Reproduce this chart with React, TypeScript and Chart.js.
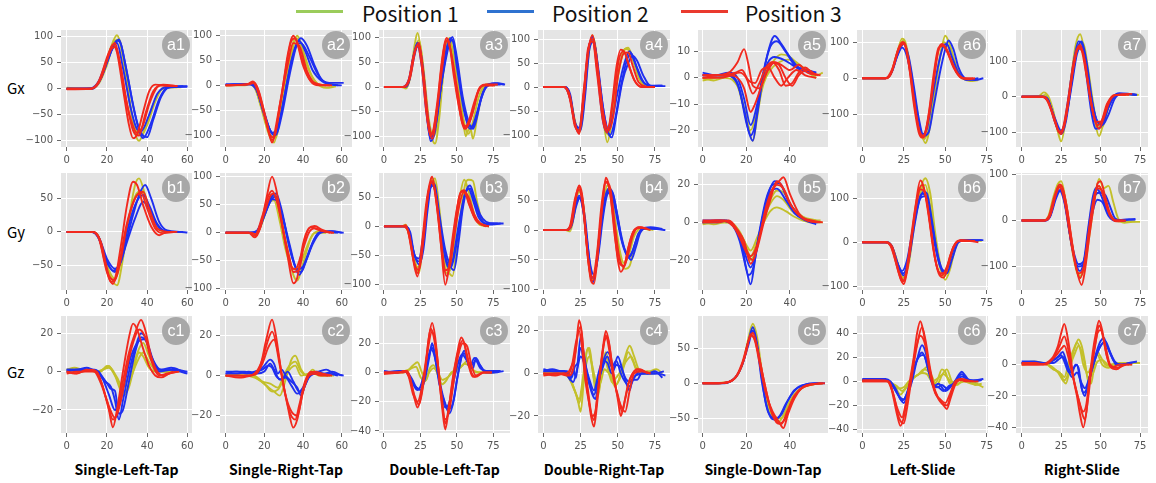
import React, { useEffect, useRef } from "react";
import { Chart, registerables } from "chart.js";

Chart.register(...registerables);

type Pt = [number, number];
type Line = Pt[];

// ---------------- labels ----------------
const LEGEND_LABELS = ["Position 1", "Position 2", "Position 3"];
const ROW_LABELS = ["Gx", "Gy", "Gz"];
const COLUMN_TITLES = [
  "Single-Left-Tap",
  "Single-Right-Tap",
  "Double-Left-Tap",
  "Double-Right-Tap",
  "Single-Down-Tap",
  "Left-Slide",
  "Right-Slide",
];

// x axis per column (sample index)
const X_MIN = [-2.8, -2.9, -3.4, -3.6, -2.1, -3.2, -3.6];
const X_MAX = [62.3, 65.3, 86.4, 85.1, 57.4, 75.8, 80];
const X_STEP = [20, 20, 25, 25, 20, 25, 25];

// ---------------- series (sample index, value) ----------------
// a1 Single-Left-Tap Gx
const A1_P1: Line[] = [
  [[0,0],[10,0],[14,3],[18,30],[22,80],[25,103],[28,60],[31,-20],[34,-85],[36,-100],[39,-75],[43,-30],[47,-2],[52,3],[57,3]],
  [[0,2],[12,0],[16,10],[20,45],[24,92],[26,95],[29,40],[33,-60],[37,-90],[40,-70],[44,-25],[48,2],[55,3]],
];
const A1_P2: Line[] = [
  [[0,0],[13,0],[17,20],[21,60],[25,93],[27,85],[30,30],[34,-50],[37,-85],[40,-93],[43,-60],[47,-15],[51,3],[60,5]],
  [[0,0],[12,1],[16,15],[20,55],[24,85],[26,95],[29,50],[33,-30],[36,-80],[38,-95],[42,-65],[46,-20],[50,2],[60,4]],
  [[0,0],[12,0],[16,12],[20,50],[23,80],[25,88],[28,40],[32,-40],[35,-78],[37,-82],[41,-50],[45,-10],[50,4],[58,5]],
];
const A1_P3: Line[] = [
  [[0,0],[12,0],[16,12],[20,55],[23,85],[25,70],[28,0],[31,-70],[33,-95],[35,-88],[38,-45],[41,-5],[44,8],[50,6],[55,5]],
  [[0,0],[12,0],[16,15],[21,70],[24,88],[26,60],[29,-10],[32,-60],[35,-85],[38,-70],[41,-30],[45,3],[48,8],[55,5]],
  [[0,-1],[12,0],[17,20],[22,75],[24,80],[27,40],[30,-30],[33,-80],[36,-90],[39,-50],[43,-5],[47,6],[55,5]],
];

// a2 Single-Right-Tap Gx
const A2_P1: Line[] = [
  [[0,0],[10,0],[14,5],[18,-40],[22,-95],[25,-115],[28,-60],[32,30],[36,95],[38,90],[42,40],[47,5],[52,-5],[57,-2]],
  [[0,0],[12,2],[15,-5],[19,-50],[23,-100],[26,-105],[29,-40],[33,40],[37,100],[40,70],[45,15],[50,0],[55,0]],
];
const A2_P2: Line[] = [
  [[0,2],[12,3],[15,0],[19,-45],[23,-90],[26,-100],[29,-60],[33,20],[37,85],[39,95],[42,80],[46,40],[50,10],[55,5],[61,5]],
  [[0,2],[12,2],[16,-10],[20,-55],[24,-95],[27,-85],[30,-30],[34,50],[38,90],[41,70],[45,30],[50,8],[58,0]],
  [[0,1],[13,2],[16,-8],[20,-60],[25,-100],[28,-70],[32,10],[36,75],[39,85],[43,60],[48,20],[53,3],[60,0]],
];
const A2_P3: Line[] = [
  [[0,0],[11,2],[14,8],[17,-10],[21,-70],[24,-115],[26,-90],[29,-20],[32,60],[35,100],[37,85],[40,40],[44,8],[48,0],[55,0]],
  [[0,0],[12,3],[14,6],[18,-30],[22,-90],[24,-110],[27,-60],[31,30],[34,90],[36,95],[39,60],[43,15],[48,2],[54,0]],
  [[0,0],[12,2],[15,5],[19,-40],[23,-100],[25,-105],[28,-40],[32,40],[35,85],[38,80],[42,30],[46,5],[52,0]],
];

// a3 Double-Left-Tap Gx
const A3_P1: Line[] = [
  [[0,0],[12,0],[15,-3],[18,20],[21,85],[23,110],[26,60],[30,-60],[33,-105],[35,-115],[38,-60],[41,40],[44,95],[46,85],[50,20],[54,-60],[56,-100],[59,-80],[61,-105],[64,-60],[68,-5],[72,5],[78,5]],
  [[0,0],[13,0],[17,10],[21,75],[24,95],[27,40],[31,-70],[34,-100],[37,-70],[40,10],[43,85],[45,100],[48,60],[52,-20],[56,-85],[58,-95],[61,-70],[65,-20],[70,5],[76,3]],
];
const A3_P2: Line[] = [
  [[0,0],[14,0],[17,10],[20,60],[23,90],[26,50],[29,-40],[32,-110],[35,-90],[38,-20],[42,50],[45,90],[47,102],[50,60],[54,-20],[58,-70],[61,-85],[63,-70],[67,-20],[71,5],[78,8],[83,5]],
  [[0,0],[13,0],[17,15],[21,70],[24,85],[27,30],[30,-60],[33,-100],[36,-70],[40,20],[44,85],[47,95],[50,40],[55,-50],[59,-85],[62,-75],[66,-30],[70,0],[76,8],[82,5]],
  [[0,0],[14,0],[17,10],[21,65],[23,85],[26,40],[29,-50],[32,-105],[35,-80],[39,0],[43,80],[46,100],[49,70],[53,-10],[57,-70],[60,-80],[64,-50],[68,-10],[74,5],[80,5]],
];
const A3_P3: Line[] = [
  [[0,0],[13,0],[17,15],[20,60],[23,85],[26,40],[29,-50],[32,-100],[34,-85],[37,-20],[40,60],[43,100],[45,85],[48,20],[52,-50],[55,-85],[58,-70],[62,-30],[66,0],[72,5],[78,5]],
  [[0,0],[13,0],[17,12],[21,70],[24,90],[27,20],[30,-70],[33,-105],[36,-60],[39,30],[42,90],[44,95],[47,50],[51,-30],[54,-75],[57,-80],[61,-50],[65,-5],[70,5],[76,3]],
  [[0,0],[14,0],[18,20],[22,80],[24,85],[27,30],[31,-80],[33,-95],[36,-50],[40,40],[43,95],[46,70],[50,0],[54,-70],[56,-85],[60,-60],[64,-15],[68,3],[75,3]],
];

// a4 Double-Right-Tap Gx
const A4_P1: Line[] = [
  [[0,0],[14,0],[17,-10],[21,-70],[24,-95],[27,-40],[30,60],[33,108],[36,50],[40,-60],[43,-115],[46,-70],[50,20],[54,75],[57,82],[60,60],[64,20],[68,2],[75,0]],
  [[0,0],[14,0],[18,-20],[22,-80],[25,-90],[28,-10],[31,80],[34,100],[37,30],[41,-80],[44,-100],[47,-40],[51,40],[55,80],[58,75],[62,40],[67,5],[72,0]],
];
const A4_P2: Line[] = [
  [[0,0],[14,0],[18,-25],[21,-75],[24,-95],[27,-30],[30,70],[33,105],[36,60],[40,-40],[43,-90],[46,-105],[49,-60],[53,10],[57,50],[60,65],[63,55],[67,25],[72,3],[80,3]],
  [[0,0],[15,0],[18,-20],[22,-85],[25,-90],[28,-20],[31,80],[34,95],[37,30],[41,-60],[45,-100],[48,-70],[52,0],[56,55],[59,70],[63,40],[68,8],[75,2],[82,2]],
  [[0,0],[14,0],[18,-15],[21,-70],[24,-85],[27,-20],[30,75],[33,100],[36,40],[40,-70],[43,-95],[46,-70],[50,-10],[54,45],[58,75],[61,55],[66,15],[72,2],[80,3]],
];
const A4_P3: Line[] = [
  [[0,0],[14,0],[17,-15],[21,-75],[24,-98],[27,-30],[30,70],[33,108],[35,80],[38,0],[41,-80],[43,-95],[46,-40],[49,40],[52,78],[55,70],[58,40],[62,10],[67,0],[75,0]],
  [[0,0],[14,0],[18,-25],[22,-85],[24,-95],[27,-10],[31,90],[33,100],[36,30],[40,-70],[42,-90],[45,-70],[48,0],[51,60],[54,75],[57,50],[61,15],[66,0],[72,0]],
  [[0,0],[14,0],[18,-20],[21,-80],[24,-90],[27,-20],[30,80],[33,95],[36,50],[40,-50],[44,-90],[47,-60],[50,20],[54,70],[57,72],[60,45],[64,10],[70,0]],
];

// a5 Single-Down-Tap Gx
const A5_P1: Line[] = [
  [[0,0],[5,-1],[10,0],[14,-1],[17,-5],[20,-15],[23,-24],[25,-15],[28,0],[32,6],[36,9],[40,8],[44,5],[48,3],[52,1],[55,2]],
  [[0,-1],[6,0],[12,1],[16,-3],[19,-12],[22,-20],[25,-12],[28,-2],[31,3],[35,6],[39,7],[43,6],[47,3],[52,0]],
];
const A5_P2: Line[] = [
  [[0,1],[5,1],[10,1],[14,0],[17,-5],[20,-17],[23,-24],[25,-14],[28,2],[30,10],[33,16],[36,13],[40,8],[44,4],[48,3],[52,2]],
  [[0,1],[6,1],[12,1],[16,-2],[19,-12],[22,-22],[24,-18],[27,-2],[30,6],[33,8],[37,7],[41,5],[45,3],[50,2]],
  [[0,2],[6,1],[12,2],[16,0],[19,-8],[22,-18],[25,-10],[28,3],[31,12],[34,14],[38,10],[42,5],[47,3],[52,2]],
];
const A5_P3: Line[] = [
  [[0,1],[6,1],[12,2],[16,6],[19,11],[21,5],[23,-3],[26,-4],[29,2],[32,6],[35,5],[38,0],[41,-3],[44,1],[48,3],[52,1]],
  [[0,0],[7,1],[12,1],[16,0],[19,-4],[22,-13],[24,-10],[27,-3],[30,3],[33,6],[36,5],[40,3],[44,5],[48,2],[53,1]],
  [[0,0],[8,0],[13,1],[17,2],[20,0],[23,-6],[26,-2],[29,4],[32,6],[35,3],[38,-3],[41,-2],[44,2],[47,4],[50,2],[54,1]],
  [[0,1],[10,1],[15,2],[18,3],[21,-1],[24,-2],[27,3],[30,4],[33,0],[36,-3],[39,0],[43,3],[47,1],[52,0]],
];

// a6 Left-Slide Gx
const A6_P1: Line[] = [
  [[0,0],[14,0],[17,10],[21,70],[24,110],[26,100],[29,30],[32,-60],[35,-140],[38,-180],[41,-130],[44,-30],[47,60],[50,118],[53,90],[57,30],[61,0],[65,-8],[70,-5]],
  [[0,0],[14,0],[18,20],[22,85],[25,105],[28,50],[31,-40],[34,-130],[37,-170],[40,-140],[43,-50],[46,40],[49,100],[52,85],[56,30],[60,0],[66,-5]],
];
const A6_P2: Line[] = [
  [[0,0],[14,0],[18,20],[22,75],[25,95],[28,60],[31,-20],[34,-110],[37,-160],[40,-150],[43,-80],[47,20],[50,80],[52,105],[55,80],[58,30],[62,0],[68,-5],[73,0]],
  [[0,0],[14,0],[17,10],[21,60],[24,85],[27,60],[30,-10],[33,-100],[36,-155],[39,-140],[42,-60],[46,40],[49,90],[51,95],[54,60],[58,15],[63,-5],[70,0]],
];
const A6_P3: Line[] = [
  [[0,0],[14,0],[17,10],[21,70],[24,100],[26,90],[29,10],[32,-90],[35,-155],[37,-165],[40,-110],[43,-10],[46,80],[48,95],[51,80],[55,35],[59,5],[64,-3],[68,0]],
  [[0,0],[14,0],[18,25],[22,85],[25,100],[28,50],[31,-50],[34,-140],[37,-160],[40,-100],[43,10],[46,85],[49,90],[53,55],[57,15],[62,0],[67,0]],
  [[0,0],[15,0],[18,20],[22,80],[25,95],[28,40],[31,-70],[34,-150],[36,-165],[39,-130],[42,-40],[45,60],[48,92],[51,75],[55,30],[60,0],[66,-2]],
];

// a7 Right-Slide Gx
const A7_P1: Line[] = [
  [[0,0],[11,2],[14,12],[17,0],[20,-40],[23,-100],[25,-125],[28,-60],[31,40],[34,140],[37,175],[40,120],[43,20],[46,-60],[49,-110],[52,-70],[56,-10],[60,5],[65,5],[74,5]],
  [[0,0],[12,0],[15,5],[19,-30],[23,-90],[26,-100],[29,-30],[33,80],[36,145],[39,150],[42,80],[45,-10],[48,-80],[51,-85],[55,-30],[60,5],[66,8],[74,5]],
];
const A7_P2: Line[] = [
  [[0,0],[13,0],[16,-5],[20,-50],[24,-100],[26,-95],[29,-20],[33,100],[36,155],[38,150],[41,60],[44,-40],[47,-90],[50,-85],[54,-40],[58,0],[62,10],[68,8],[73,5]],
  [[0,0],[13,0],[17,-15],[21,-60],[25,-95],[28,-60],[32,40],[35,120],[38,140],[41,90],[44,0],[47,-60],[51,-80],[55,-50],[59,-5],[64,8],[72,5]],
  [[0,0],[14,0],[17,-10],[21,-70],[25,-105],[28,-70],[31,20],[35,130],[38,155],[41,100],[45,-20],[48,-70],[51,-75],[55,-30],[60,5],[66,8],[73,5]],
];
const A7_P3: Line[] = [
  [[0,0],[13,0],[16,-10],[20,-55],[23,-95],[25,-105],[28,-60],[32,60],[35,130],[37,145],[40,100],[43,10],[46,-60],[49,-90],[52,-60],[56,-10],[60,5],[70,8]],
  [[0,0],[14,0],[17,-15],[21,-70],[24,-100],[27,-80],[30,0],[33,90],[36,135],[39,120],[42,40],[45,-40],[48,-80],[51,-65],[55,-15],[60,5],[68,5]],
  [[0,0],[13,0],[16,-8],[20,-50],[24,-98],[26,-90],[29,-20],[33,100],[36,140],[38,130],[41,60],[44,-20],[47,-70],[50,-70],[54,-20],[59,5],[66,5]],
];

// b1 Single-Left-Tap Gy
const B1_P1: Line[] = [
  [[0,0],[12,0],[15,-3],[18,-25],[21,-60],[25,-80],[28,-40],[31,20],[34,70],[36,80],[39,55],[43,15],[47,2],[52,0]],
  [[0,0],[12,0],[16,-8],[20,-50],[24,-70],[27,-45],[30,0],[33,45],[37,62],[40,45],[44,10],[48,0]],
];
const B1_P2: Line[] = [
  [[0,0],[13,0],[16,-8],[20,-40],[24,-55],[27,-45],[30,-10],[33,25],[36,55],[39,70],[42,50],[46,15],[50,2],[56,0],[60,-1]],
  [[0,0],[13,0],[16,-10],[20,-45],[24,-60],[27,-40],[30,0],[34,40],[38,55],[41,40],[45,12],[50,0],[58,0]],
  [[0,0],[12,0],[16,-10],[20,-45],[23,-58],[26,-50],[30,-15],[34,20],[38,45],[41,35],[45,10],[50,0],[57,0]],
];
const B1_P3: Line[] = [
  [[0,0],[13,0],[16,-8],[19,-45],[22,-75],[24,-70],[27,-20],[30,40],[33,75],[35,70],[38,40],[42,8],[46,-5],[50,0],[55,0]],
  [[0,0],[12,0],[16,-10],[20,-60],[23,-78],[26,-50],[29,0],[32,35],[35,55],[38,60],[41,35],[45,5],[50,0]],
  [[0,0],[13,0],[17,-15],[21,-65],[24,-72],[27,-40],[30,10],[34,50],[37,58],[40,35],[44,5],[48,-2],[54,0]],
];

// b2 Single-Right-Tap Gy
const B2_P1: Line[] = [
  [[0,0],[12,0],[15,-3],[18,10],[21,40],[24,65],[26,62],[29,20],[32,-30],[35,-75],[37,-85],[40,-55],[44,-10],[48,3],[53,2],[57,0]],
  [[0,0],[13,0],[16,-2],[19,20],[23,55],[25,58],[28,20],[31,-30],[35,-65],[38,-60],[42,-25],[46,0],[52,0]],
];
const B2_P2: Line[] = [
  [[0,0],[13,0],[16,2],[20,35],[24,65],[26,70],[29,40],[32,-10],[35,-50],[38,-75],[41,-55],[45,-20],[49,0],[55,3],[61,0]],
  [[0,0],[13,0],[17,5],[21,40],[24,60],[27,55],[30,20],[34,-40],[37,-65],[40,-60],[44,-25],[48,0],[54,3],[60,0]],
  [[0,0],[12,0],[16,3],[20,30],[23,55],[26,65],[29,35],[33,-20],[36,-60],[39,-70],[42,-45],[46,-10],[50,2],[58,0]],
];
const B2_P3: Line[] = [
  [[0,0],[12,0],[15,-8],[18,10],[21,60],[24,100],[26,80],[29,20],[32,-40],[35,-90],[37,-80],[40,-20],[43,8],[46,12],[50,5],[55,0]],
  [[0,0],[12,0],[15,-5],[19,30],[22,65],[24,75],[27,50],[30,0],[33,-45],[35,-70],[38,-65],[41,-10],[44,10],[48,5],[54,0]],
  [[0,0],[13,0],[16,-3],[20,35],[23,65],[25,70],[28,35],[31,-20],[34,-60],[36,-65],[39,-40],[43,0],[46,8],[51,2],[56,0]],
];

// b3 Double-Left-Tap Gy
const B3_P1: Line[] = [
  [[0,0],[12,0],[15,3],[18,-20],[21,-60],[24,-80],[27,-20],[30,50],[33,80],[35,82],[38,30],[41,-40],[44,-75],[47,-85],[50,-30],[53,30],[56,75],[58,80],[61,78],[64,40],[68,5],[72,0]],
  [[0,0],[13,0],[16,-5],[20,-45],[23,-70],[26,-50],[29,20],[32,70],[34,80],[37,40],[40,-30],[43,-80],[46,-70],[49,-10],[52,50],[55,80],[58,60],[62,20],[66,2],[72,0]],
];
const B3_P2: Line[] = [
  [[0,0],[14,0],[17,-5],[20,-40],[24,-65],[27,-40],[30,30],[33,75],[35,70],[38,20],[42,-40],[45,-65],[48,-75],[51,-30],[54,30],[57,65],[59,70],[62,50],[66,20],[70,8],[76,5],[82,5]],
  [[0,0],[14,0],[17,-8],[21,-50],[24,-60],[27,-20],[30,50],[33,72],[36,50],[39,-10],[43,-60],[46,-70],[49,-40],[53,20],[56,60],[59,65],[63,35],[67,10],[72,3],[80,5]],
  [[0,0],[14,0],[18,-10],[21,-50],[24,-55],[27,-15],[31,60],[34,70],[37,30],[41,-40],[44,-70],[47,-60],[51,0],[55,50],[58,65],[61,45],[65,15],[70,5],[78,5]],
];
const B3_P3: Line[] = [
  [[0,0],[12,0],[15,2],[18,-25],[21,-70],[23,-86],[26,-30],[29,40],[32,80],[33,85],[36,40],[39,-30],[42,-100],[44,-80],[47,-20],[50,30],[53,60],[56,55],[59,35],[63,10],[67,3],[72,0]],
  [[0,0],[13,0],[16,-5],[20,-55],[23,-80],[26,-40],[29,30],[32,75],[34,70],[37,20],[40,-50],[43,-85],[46,-50],[49,10],[52,55],[55,62],[58,40],[62,15],[66,5],[72,0]],
  [[0,0],[13,0],[17,-10],[21,-65],[24,-75],[27,-25],[30,50],[33,78],[36,45],[39,-20],[42,-75],[45,-70],[48,-20],[52,40],[55,60],[58,50],[62,20],[66,5],[70,0]],
];

// b4 Double-Right-Tap Gy
const B4_P1: Line[] = [
  [[0,0],[15,0],[18,-2],[21,30],[24,70],[26,55],[29,-20],[32,-80],[34,-85],[37,-20],[40,40],[43,75],[46,60],[49,0],[52,-50],[55,-65],[58,-60],[61,-30],[64,-5],[68,2],[74,0]],
  [[0,0],[15,0],[18,5],[21,40],[24,65],[27,40],[30,-40],[33,-80],[36,-50],[39,20],[42,65],[45,70],[48,20],[51,-30],[54,-55],[57,-45],[61,-10],[66,3],[72,0]],
];
const B4_P2: Line[] = [
  [[0,0],[16,0],[19,10],[22,45],[24,58],[27,30],[30,-40],[33,-88],[35,-70],[38,0],[41,50],[44,70],[47,60],[50,20],[53,-20],[56,-40],[59,-50],[62,-30],[65,-5],[69,3],[76,2],[82,0]],
  [[0,0],[16,0],[19,8],[22,40],[25,55],[28,20],[31,-50],[34,-75],[37,-40],[40,20],[43,60],[46,65],[49,35],[52,-5],[55,-35],[58,-45],[62,-20],[66,2],[72,5],[80,2]],
  [[0,0],[15,0],[18,5],[21,35],[24,55],[27,30],[30,-30],[33,-80],[36,-55],[39,10],[42,55],[45,68],[48,40],[51,0],[54,-30],[57,-45],[60,-35],[64,-5],[70,3],[78,2]],
];
const B4_P3: Line[] = [
  [[0,0],[15,0],[18,5],[21,45],[24,75],[26,60],[29,-20],[32,-85],[34,-90],[37,-30],[40,50],[42,88],[44,75],[47,20],[50,-50],[52,-70],[55,-55],[58,-20],[61,0],[65,5],[70,2]],
  [[0,0],[15,0],[18,8],[21,50],[24,72],[27,40],[30,-50],[33,-85],[36,-50],[39,30],[42,80],[45,70],[48,10],[51,-45],[54,-62],[57,-40],[60,-10],[64,5],[70,2]],
  [[0,0],[16,0],[19,10],[22,55],[24,68],[27,30],[30,-45],[33,-80],[36,-40],[39,40],[42,82],[45,60],[48,-10],[51,-55],[54,-60],[57,-30],[61,0],[66,4],[72,0]],
];

// b5 Single-Down-Tap Gy
const B5_P1: Line[] = [
  [[0,0],[5,-1],[10,0],[14,-1],[17,-5],[20,-12],[22,-15],[25,-8],[28,0],[31,6],[34,8],[38,6],[42,3],[46,1],[50,0],[55,0]],
  [[0,0],[8,0],[12,0],[16,-4],[19,-10],[22,-18],[25,-10],[28,2],[31,10],[34,14],[37,12],[41,6],[45,3],[50,1],[54,1]],
  [[0,-1],[10,1],[15,-2],[19,-12],[22,-20],[25,-12],[28,4],[31,12],[34,17],[37,16],[41,8],[46,3],[52,1]],
];
const B5_P2: Line[] = [
  [[0,1],[6,1],[10,1],[14,-2],[17,-10],[20,-25],[22,-33],[24,-20],[27,0],[30,15],[33,22],[36,20],[40,10],[44,4],[48,1],[52,0]],
  [[0,0],[7,0],[11,1],[15,-3],[18,-12],[21,-28],[23,-25],[26,-5],[29,12],[32,20],[35,21],[39,12],[43,5],[48,1],[53,0]],
  [[0,0],[8,1],[12,0],[16,-5],[19,-15],[22,-24],[25,-12],[28,5],[31,16],[34,18],[38,12],[42,5],[47,1],[52,-1]],
];
const B5_P3: Line[] = [
  [[0,0],[6,1],[10,1],[14,-2],[17,-8],[20,-16],[23,-20],[26,-8],[29,8],[32,18],[35,22],[37,24],[40,15],[44,5],[48,1],[54,0]],
  [[0,1],[8,1],[12,0],[16,-5],[19,-12],[22,-18],[25,-12],[28,2],[31,14],[34,20],[37,18],[41,8],[46,2],[52,0]],
  [[0,0],[7,0],[12,1],[16,-4],[19,-10],[22,-22],[25,-14],[28,0],[31,12],[34,22],[36,20],[40,10],[45,3],[50,1],[55,0]],
];

// b6 Left-Slide Gy
const B6_P1: Line[] = [
  [[0,0],[14,0],[17,-5],[20,-30],[23,-70],[25,-85],[28,-40],[32,60],[35,120],[38,145],[41,110],[44,20],[47,-50],[50,-85],[53,-60],[56,-15],[60,5],[66,5],[72,3]],
  [[0,0],[15,0],[18,-10],[22,-55],[25,-80],[28,-50],[31,30],[35,110],[38,130],[41,80],[44,0],[47,-60],[50,-75],[53,-40],[57,0],[62,5],[70,3]],
];
const B6_P2: Line[] = [
  [[0,0],[14,0],[17,-5],[21,-45],[24,-65],[27,-40],[30,20],[34,90],[37,115],[39,110],[42,50],[45,-20],[48,-60],[51,-70],[54,-40],[58,0],[63,5],[68,5],[73,5]],
  [[0,0],[15,0],[18,-10],[22,-55],[25,-75],[28,-40],[32,50],[35,100],[38,105],[41,60],[44,-10],[47,-55],[50,-65],[53,-35],[57,0],[62,5],[72,5]],
  [[0,0],[14,0],[18,-12],[22,-60],[25,-70],[28,-30],[32,60],[36,110],[39,100],[42,40],[46,-40],[49,-70],[52,-50],[56,-5],[61,5],[70,3]],
];
const B6_P3: Line[] = [
  [[0,0],[14,0],[17,-8],[21,-55],[24,-90],[26,-75],[29,0],[32,80],[35,140],[37,125],[40,60],[43,-20],[46,-70],[49,-80],[52,-50],[55,-10],[59,5],[65,3],[70,0]],
  [[0,0],[15,0],[18,-15],[22,-70],[25,-95],[27,-65],[30,20],[33,100],[36,130],[39,90],[42,10],[45,-55],[48,-75],[51,-55],[55,-10],[60,5],[68,3]],
  [[0,0],[14,0],[18,-10],[22,-65],[25,-88],[28,-40],[32,70],[35,120],[38,110],[41,40],[44,-40],[47,-70],[50,-70],[53,-30],[58,3],[65,3]],
];

// b7 Right-Slide Gy
const B7_P1: Line[] = [
  [[0,0],[14,0],[17,10],[20,50],[23,80],[25,85],[28,40],[31,-30],[34,-90],[37,-120],[40,-100],[43,-30],[46,40],[49,90],[52,70],[55,75],[58,40],[61,5],[65,-5],[70,-3],[75,-3]],
  [[0,0],[14,0],[17,5],[21,50],[24,75],[27,50],[30,-20],[34,-100],[37,-125],[40,-80],[43,0],[46,60],[49,75],[52,50],[55,20],[59,0],[64,-3],[72,-2]],
];
const B7_P2: Line[] = [
  [[0,0],[15,0],[18,10],[21,45],[24,65],[27,40],[30,-20],[33,-70],[36,-95],[39,-90],[42,-20],[45,50],[47,70],[50,60],[53,55],[56,30],[59,5],[63,0],[68,2],[72,3]],
  [[0,0],[15,0],[18,8],[22,50],[25,68],[28,30],[31,-40],[34,-90],[37,-110],[40,-80],[43,-10],[46,50],[49,60],[52,40],[56,10],[60,0],[66,2],[72,2]],
  [[0,0],[14,0],[18,10],[22,55],[25,65],[28,25],[32,-60],[36,-100],[39,-95],[42,-40],[45,20],[48,45],[51,40],[55,10],[59,0],[66,0]],
];
const B7_P3: Line[] = [
  [[0,0],[14,0],[17,8],[21,55],[24,78],[26,70],[29,20],[32,-50],[35,-110],[38,-140],[40,-110],[43,-30],[46,40],[48,80],[50,85],[53,50],[56,15],[60,0],[65,0]],
  [[0,0],[15,0],[18,10],[22,60],[25,75],[28,40],[31,-30],[34,-95],[37,-125],[40,-90],[43,-10],[46,55],[49,75],[52,50],[56,10],[60,-2],[66,0]],
  [[0,0],[14,0],[18,12],[22,62],[24,72],[27,45],[30,-20],[33,-80],[36,-115],[39,-105],[42,-40],[45,30],[48,70],[51,65],[55,20],[59,0],[64,0]],
];

// c1 Single-Left-Tap Gz
const C1_P1: Line[] = [
  [[0,1],[4,2],[8,1],[12,1],[16,0],[19,2],[21,3],[23,0],[26,-6],[29,-12],[31,-8],[33,0],[36,10],[38,8],[41,2],[45,0],[50,0],[55,0]],
  [[0,0],[5,1],[10,1],[14,0],[17,0],[20,3],[22,2],[25,-3],[28,-8],[30,-5],[33,3],[36,12],[38,15],[41,8],[45,1],[50,0],[56,0]],
  [[0,1],[6,0],[11,1],[15,0],[18,1],[21,2],[24,-2],[27,-10],[29,-11],[32,-3],[35,5],[38,10],[41,5],[45,0],[52,0]],
];
const C1_P2: Line[] = [
  [[0,1],[5,1],[10,2],[13,1],[16,0],[19,-5],[22,-8],[24,-15],[26,-25],[28,-15],[31,0],[34,12],[37,20],[39,18],[42,8],[46,1],[50,1],[54,1],[60,0]],
  [[0,0],[5,1],[10,1],[14,1],[17,-2],[20,-6],[22,-9],[24,-10],[26,-22],[28,-20],[31,-5],[34,10],[37,18],[40,15],[43,6],[47,1],[52,2],[58,0]],
  [[0,1],[6,1],[11,1],[15,0],[18,-4],[21,-12],[24,-20],[26,-18],[29,-5],[32,8],[36,16],[39,17],[42,8],[46,0],[52,1],[60,-1]],
];
const C1_P3: Line[] = [
  [[0,0],[4,-1],[8,0],[12,1],[15,0],[18,-8],[21,-20],[23,-29],[25,-20],[28,0],[31,18],[33,25],[35,22],[38,12],[41,3],[44,-2],[47,-3],[51,-1],[56,0]],
  [[0,-1],[5,0],[10,0],[14,0],[17,-5],[20,-15],[23,-25],[25,-22],[28,-5],[31,10],[34,20],[37,27],[39,22],[42,8],[45,0],[48,-2],[53,0]],
  [[0,0],[5,-1],[10,1],[14,0],[17,-6],[21,-18],[24,-24],[27,-15],[30,2],[33,15],[36,22],[39,18],[42,6],[46,-2],[50,-1],[55,0]],
];

// c2 Single-Right-Tap Gz
const C2_P1: Line[] = [
  [[0,0],[8,0],[14,0],[17,-2],[21,-5],[25,-8],[28,-10],[31,-2],[34,8],[36,10],[39,3],[42,0],[45,3],[48,0],[52,0],[56,0]],
  [[0,0],[10,0],[15,-1],[19,-3],[23,-4],[27,-6],[30,0],[33,5],[36,7],[39,2],[43,0],[47,2],[50,0],[55,0]],
  [[0,0],[10,1],[15,0],[20,-4],[24,-8],[27,-7],[30,-2],[33,3],[36,5],[39,0],[43,1],[50,0]],
];
const C2_P2: Line[] = [
  [[0,1],[5,2],[10,2],[14,1],[17,2],[20,5],[23,8],[25,6],[27,1],[29,3],[31,0],[34,-3],[37,-6],[39,-10],[41,-5],[44,1],[48,2],[52,3],[56,1],[61,0]],
  [[0,2],[6,2],[11,1],[15,2],[19,3],[22,5],[24,4],[26,0],[29,-2],[32,2],[35,-3],[38,-8],[40,-6],[43,0],[47,2],[51,1],[55,2],[60,0]],
  [[0,1],[6,1],[12,2],[16,1],[20,2],[23,6],[25,3],[28,-2],[31,-1],[34,-5],[37,-9],[40,-7],[43,-1],[47,1],[53,1],[58,0]],
];
const C2_P3: Line[] = [
  [[0,0],[6,0],[12,0],[15,1],[18,5],[21,18],[24,28],[26,20],[29,0],[32,-15],[35,-26],[37,-22],[40,-8],[43,0],[46,2],[50,1],[55,0]],
  [[0,0],[6,0],[12,0],[16,2],[19,8],[22,18],[24,22],[27,12],[30,-5],[33,-18],[36,-22],[38,-15],[41,-3],[44,2],[49,0],[54,0]],
  [[0,0],[7,-1],[13,0],[16,1],[19,6],[22,14],[25,18],[28,5],[31,-10],[34,-18],[37,-20],[40,-8],[43,0],[47,1],[53,0]],
];

// c3 Double-Left-Tap Gz
const C3_P1: Line[] = [
  [[0,0],[10,0],[14,1],[17,2],[20,5],[23,7],[26,0],[29,-5],[31,2],[34,5],[37,-2],[40,-8],[43,-5],[46,0],[50,2],[54,5],[57,8],[60,3],[64,0],[70,0],[76,0]],
  [[0,0],[12,0],[16,1],[19,3],[22,4],[25,-3],[28,-6],[31,0],[34,3],[37,0],[40,-5],[44,-3],[48,1],[52,3],[55,6],[58,5],[62,1],[68,0],[74,0]],
];
const C3_P2: Line[] = [
  [[0,0],[8,0],[13,1],[16,0],[19,-4],[22,-10],[25,-12],[28,-5],[31,10],[33,20],[35,12],[38,-5],[41,-18],[44,-25],[47,-22],[50,-5],[53,10],[55,15],[58,5],[61,3],[63,10],[66,5],[70,0],[76,0],[82,1]],
  [[0,1],[9,0],[14,1],[17,-2],[20,-8],[23,-12],[26,-8],[29,3],[32,16],[35,10],[38,-8],[42,-22],[45,-28],[48,-18],[51,0],[54,12],[57,8],[60,5],[63,8],[66,3],[72,1],[80,1]],
  [[0,0],[10,1],[15,1],[18,-3],[21,-9],[24,-11],[27,-3],[30,8],[33,17],[36,5],[39,-12],[42,-24],[45,-20],[48,-5],[52,10],[55,13],[59,4],[62,10],[65,6],[69,1],[75,0]],
];
const C3_P3: Line[] = [
  [[0,0],[8,0],[13,0],[16,1],[19,-8],[21,-18],[23,-24],[25,-18],[28,0],[31,25],[33,34],[35,25],[38,-5],[40,-25],[42,-39],[44,-28],[47,-5],[50,12],[53,24],[55,20],[58,5],[61,-3],[64,-2],[68,0],[74,0]],
  [[0,0],[9,0],[14,1],[17,-3],[20,-15],[23,-20],[26,-10],[29,10],[32,30],[34,25],[37,5],[40,-20],[42,-35],[45,-20],[48,0],[51,15],[54,22],[57,12],[60,0],[63,-3],[68,0],[74,0]],
  [[0,-1],[10,0],[15,1],[18,-5],[21,-16],[24,-22],[27,-8],[30,15],[33,28],[36,15],[39,-15],[42,-32],[45,-25],[48,-5],[51,12],[54,20],[57,18],[60,5],[63,-2],[68,0]],
];

// c4 Double-Right-Tap Gz
const C4_P1: Line[] = [
  [[0,0],[8,0],[14,0],[17,-1],[20,-6],[23,-12],[25,-18],[27,-5],[29,10],[31,12],[33,2],[35,-8],[37,-10],[39,0],[41,8],[43,3],[46,-4],[49,-5],[52,0],[55,8],[58,13],[61,8],[64,2],[68,0],[72,1],[76,2],[80,0]],
  [[0,0],[10,0],[15,0],[19,-4],[22,-10],[24,-14],[26,-8],[29,5],[31,8],[34,0],[37,-8],[40,5],[42,10],[45,0],[48,-6],[51,-3],[54,3],[57,10],[60,6],[64,0],[70,1],[76,0]],
  [[0,0],[12,0],[17,-2],[21,-8],[24,-12],[27,0],[30,12],[32,6],[35,-5],[38,-5],[41,2],[44,0],[47,-3],[51,0],[55,5],[59,8],[62,3],[67,0],[74,0]],
];
const C4_P2: Line[] = [
  [[0,1],[6,2],[12,1],[16,1],[18,-3],[20,2],[22,-2],[25,17],[27,10],[30,-2],[33,-10],[35,-12],[37,-5],[40,5],[43,10],[45,8],[47,2],[50,8],[53,2],[56,-5],[58,-8],[60,-3],[63,-3],[66,0],[70,0],[75,1],[80,-2]],
  [[0,2],[7,1],[13,1],[17,0],[19,-2],[21,3],[23,5],[25,12],[28,2],[31,-5],[34,-10],[37,-3],[40,3],[43,8],[46,3],[49,6],[52,0],[55,-4],[58,-6],[61,-2],[65,1],[70,0],[76,0],[82,-1]],
  [[0,1],[8,1],[14,1],[17,-2],[20,-4],[23,3],[25,8],[28,4],[31,-3],[34,-8],[37,0],[40,6],[43,5],[46,0],[49,4],[52,3],[55,-2],[58,-4],[62,-1],[68,0],[75,0],[81,1]],
];
const C4_P3: Line[] = [
  [[0,0],[8,-1],[14,0],[17,-1],[20,2],[22,12],[24,25],[26,18],[28,0],[30,-10],[32,-20],[34,-25],[36,-15],[38,0],[40,12],[42,20],[44,15],[47,0],[50,-12],[52,-20],[54,-15],[57,-5],[60,0],[63,2],[67,1],[72,0]],
  [[0,0],[9,0],[15,0],[18,2],[21,8],[24,20],[26,12],[28,-2],[31,-15],[34,-22],[36,-12],[39,5],[42,18],[44,12],[47,-2],[50,-10],[53,-18],[55,-12],[58,-3],[61,1],[65,2],[70,0]],
  [[0,-1],[10,0],[16,-1],[19,3],[22,15],[25,22],[27,10],[30,-8],[33,-20],[35,-18],[38,0],[41,15],[43,17],[46,5],[49,-8],[52,-15],[55,-18],[58,-8],[61,0],[66,1],[72,0]],
];

// c5 Single-Down-Tap Gz
const C5_P1: Line[] = [
  [[0,0],[5,0],[10,1],[13,3],[16,12],[19,35],[21,65],[23,85],[25,65],[27,20],[29,-20],[31,-42],[33,-50],[35,-55],[37,-45],[40,-25],[43,-12],[46,-5],[50,-2],[55,0]],
  [[0,0],[8,0],[12,2],[15,8],[18,25],[21,60],[23,80],[25,55],[27,15],[30,-30],[33,-48],[36,-50],[39,-35],[42,-18],[46,-6],[50,-2],[55,0]],
];
const C5_P2: Line[] = [
  [[0,0],[5,0],[10,0],[13,3],[16,12],[19,35],[21,60],[23,80],[25,55],[27,10],[29,-30],[31,-48],[33,-52],[35,-48],[38,-30],[41,-15],[44,-5],[48,-1],[53,0]],
  [[0,0],[7,0],[12,2],[15,8],[18,25],[21,55],[23,75],[25,52],[27,5],[30,-40],[33,-50],[36,-45],[39,-25],[42,-10],[46,-3],[51,0],[56,0]],
];
const C5_P3: Line[] = [
  [[0,0],[6,0],[11,1],[14,5],[17,18],[20,45],[22,70],[24,60],[26,30],[29,-15],[32,-40],[35,-55],[37,-64],[39,-45],[42,-22],[45,-8],[49,-2],[54,0]],
  [[0,0],[7,0],[12,2],[15,8],[18,28],[21,60],[23,72],[25,50],[28,5],[31,-35],[34,-55],[36,-58],[39,-38],[42,-18],[46,-5],[51,-1],[56,0]],
  [[0,0],[8,0],[13,3],[16,12],[19,35],[22,68],[24,62],[26,35],[29,-10],[32,-45],[35,-58],[38,-50],[41,-25],[45,-8],[50,-2],[55,0]],
];

// c6 Left-Slide Gz
const C6_P1: Line[] = [
  [[0,1],[8,1],[14,1],[17,-1],[20,-5],[23,-11],[25,-8],[28,-2],[31,3],[34,6],[37,10],[40,8],[43,-2],[45,0],[48,10],[50,8],[53,-2],[56,0],[59,2],[62,0],[66,-2],[70,-3],[73,-5]],
  [[0,0],[10,1],[15,0],[18,-2],[21,-4],[24,-8],[27,-4],[30,2],[33,5],[36,8],[39,12],[42,4],[45,-3],[48,5],[51,10],[54,0],[57,-3],[60,0],[64,1],[68,-3],[72,-2]],
  [[0,1],[10,1],[15,1],[19,-3],[22,-6],[25,-5],[28,0],[32,4],[36,7],[39,6],[42,0],[46,3],[49,6],[52,2],[55,-3],[59,-1],[63,0],[70,-2]],
];
const C6_P2: Line[] = [
  [[0,2],[8,2],[14,2],[17,0],[20,-6],[23,-15],[25,-18],[27,-12],[30,0],[33,18],[36,30],[38,25],[41,5],[43,-3],[46,-5],[49,-8],[52,-4],[55,-2],[58,5],[60,8],[62,5],[65,0],[69,1],[73,2]],
  [[0,1],[9,1],[15,1],[18,-3],[21,-10],[24,-16],[27,-10],[30,5],[33,18],[36,24],[39,15],[42,0],[45,-5],[48,-3],[51,-6],[54,-3],[57,0],[60,4],[63,2],[68,0],[72,1]],
  [[0,1],[10,1],[15,1],[19,-5],[22,-12],[25,-15],[28,-5],[31,10],[34,20],[37,22],[40,8],[43,-4],[46,-2],[50,-8],[53,-5],[57,2],[60,6],[64,1],[70,1]],
];
const C6_P3: Line[] = [
  [[0,0],[10,0],[15,0],[17,-3],[19,-15],[21,-28],[23,-37],[25,-30],[28,-5],[31,20],[33,40],[35,50],[37,40],[40,15],[43,-5],[46,-15],[49,-20],[51,-23],[53,-15],[56,-3],[59,2],[62,0],[66,0],[70,0]],
  [[0,0],[9,0],[15,0],[18,-8],[21,-22],[24,-30],[26,-20],[29,0],[32,25],[35,38],[38,30],[41,5],[44,-10],[47,-15],[50,-18],[53,-10],[56,0],[60,2],[65,0]],
  [[0,1],[10,1],[16,0],[19,-12],[22,-30],[25,-35],[27,-22],[30,5],[33,30],[36,45],[38,35],[41,10],[44,-8],[48,-18],[51,-20],[54,-8],[57,0],[61,1],[67,0]],
];

// c7 Right-Slide Gz
const C7_P1: Line[] = [
  [[0,1],[8,2],[14,1],[17,0],[20,-2],[23,-5],[26,-10],[28,-12],[30,-5],[32,5],[34,12],[36,16],[38,12],[40,2],[42,-10],[44,-12],[46,0],[48,8],[50,5],[53,0],[57,-1],[62,0],[68,1],[75,1]],
  [[0,1],[10,1],[15,1],[19,-2],[22,-4],[25,-6],[27,-8],[30,2],[33,10],[35,14],[37,10],[39,0],[42,-5],[45,2],[48,6],[51,0],[55,-2],[60,0],[66,1],[72,1]],
  [[0,0],[10,1],[16,0],[20,-3],[24,-5],[27,-10],[29,-7],[31,0],[34,8],[36,12],[39,5],[42,-8],[45,-6],[48,2],[51,3],[55,0],[62,1],[70,0]],
];
const C7_P2: Line[] = [
  [[0,2],[8,2],[14,1],[17,1],[20,3],[23,5],[26,8],[28,3],[30,-3],[32,-5],[34,0],[36,-2],[38,-15],[40,-20],[42,-12],[45,0],[48,10],[50,15],[52,17],[54,12],[57,5],[60,0],[64,0],[68,1],[73,2]],
  [[0,1],[9,1],[15,1],[19,2],[22,4],[25,6],[27,2],[30,-5],[33,-2],[35,0],[37,-10],[39,-18],[41,-16],[44,-5],[47,5],[50,12],[53,15],[56,8],[59,2],[63,0],[70,1]],
  [[0,1],[10,1],[16,1],[20,1],[23,3],[26,5],[29,-2],[32,-8],[35,-5],[38,-12],[40,-15],[43,-8],[46,2],[49,10],[52,14],[55,10],[58,3],[62,0],[69,1]],
];
const C7_P3: Line[] = [
  [[0,0],[8,0],[14,0],[17,2],[20,5],[23,12],[25,20],[27,26],[29,18],[31,5],[33,-10],[35,-20],[37,-32],[39,-40],[41,-30],[43,-10],[45,8],[47,20],[49,28],[51,22],[53,10],[56,-1],[60,-3],[65,0],[70,0]],
  [[0,1],[9,1],[15,0],[18,2],[21,6],[24,12],[27,18],[29,12],[32,-5],[35,-18],[38,-30],[40,-35],[42,-22],[44,-5],[47,15],[49,25],[51,20],[54,5],[57,-2],[62,0],[68,0]],
  [[0,0],[10,0],[16,1],[19,3],[22,6],[25,10],[27,12],[30,3],[33,-10],[36,-22],[39,-30],[41,-25],[43,-8],[46,10],[48,20],[50,22],[53,12],[56,0],[60,-2],[66,0]],
];

// ---------------- panels ----------------
type PanelSpec = {
  id: string;
  row: number;
  col: number;
  series: Line[][];
  yMin: number;
  yMax: number;
  yStep: number;
};

const PANELS: PanelSpec[] = [
  { id: "a1", row: 0, col: 0, series: [A1_P1, A1_P2, A1_P3], yMin: -112, yMax: 113, yStep: 50 },
  { id: "a2", row: 0, col: 1, series: [A2_P1, A2_P2, A2_P3], yMin: -124, yMax: 111.5, yStep: 50 },
  { id: "a3", row: 0, col: 2, series: [A3_P1, A3_P2, A3_P3], yMin: -122, yMax: 116, yStep: 50 },
  { id: "a4", row: 0, col: 3, series: [A4_P1, A4_P2, A4_P3], yMin: -125, yMax: 119, yStep: 50 },
  { id: "a5", row: 0, col: 4, series: [A5_P1, A5_P2, A5_P3], yMin: -26.4, yMax: 18.3, yStep: 10 },
  { id: "a6", row: 0, col: 5, series: [A6_P1, A6_P2, A6_P3], yMin: -191, yMax: 134, yStep: 100 },
  { id: "a7", row: 0, col: 6, series: [A7_P1, A7_P2, A7_P3], yMin: -141, yMax: 187, yStep: 100 },
  { id: "b1", row: 1, col: 0, series: [B1_P1, B1_P2, B1_P3], yMin: -87, yMax: 88, yStep: 50 },
  { id: "b2", row: 1, col: 1, series: [B2_P1, B2_P2, B2_P3], yMin: -102, yMax: 106.5, yStep: 50 },
  { id: "b3", row: 1, col: 2, series: [B3_P1, B3_P2, B3_P3], yMin: -109, yMax: 91.5, yStep: 50 },
  { id: "b4", row: 1, col: 3, series: [B4_P1, B4_P2, B4_P3], yMin: -100.5, yMax: 96, yStep: 50 },
  { id: "b5", row: 1, col: 4, series: [B5_P1, B5_P2, B5_P3], yMin: -36, yMax: 26.3, yStep: 20 },
  { id: "b6", row: 1, col: 5, series: [B6_P1, B6_P2, B6_P3], yMin: -108, yMax: 157, yStep: 100 },
  { id: "b7", row: 1, col: 6, series: [B7_P1, B7_P2, B7_P3], yMin: -151, yMax: 103, yStep: 100 },
  { id: "c1", row: 2, col: 0, series: [C1_P1, C1_P2, C1_P3], yMin: -32, yMax: 29, yStep: 20 },
  { id: "c2", row: 2, col: 1, series: [C2_P1, C2_P2, C2_P3], yMin: -28.7, yMax: 29.8, yStep: 20 },
  { id: "c3", row: 2, col: 2, series: [C3_P1, C3_P2, C3_P3], yMin: -41.4, yMax: 38.7, yStep: 20 },
  { id: "c4", row: 2, col: 3, series: [C4_P1, C4_P2, C4_P3], yMin: -28, yMax: 27, yStep: 20 },
  { id: "c5", row: 2, col: 4, series: [C5_P1, C5_P2, C5_P3], yMin: -71, yMax: 96, yStep: 50 },
  { id: "c6", row: 2, col: 5, series: [C6_P1, C6_P2, C6_P3], yMin: -43, yMax: 54.4, yStep: 20 },
  { id: "c7", row: 2, col: 6, series: [C7_P1, C7_P2, C7_P3], yMin: -43.6, yMax: 31, yStep: 20 },
];

// ---------------- layout & style ----------------
const PLOT_LEFT = [61, 220, 379, 538, 698, 857, 1016];
const PLOT_W = [131, 132, 131, 132, 130, 131, 132];
const PLOT_TOP = [30, 173, 316];
const PLOT_H = 117;
const PAD_L = 48;
const PAD_R = 12;
const PAD_T = 12;
const PAD_B = 24;

const LINE_COLORS = ["#c3c02a", "#1f2ff0", "#f2291e"];
const LEGEND_COLORS = ["#9bcc5b", "#2f72d0", "#ea3a2e"];
const TICK_FONT = { family: "'DejaVu Sans', sans-serif", size: 10 };
const TEXT_FONT = "'Noto Sans CJK SC', 'Noto Sans', sans-serif";

const fmt = (v: number | string) => {
  const n = Math.round(Number(v));
  return n < 0 ? "\u2212" + Math.abs(n) : String(n);
};

// ticks at every multiple of step inside [min, max]
const stepTicks = (step: number) => (scale: any) => {
  const out: { value: number }[] = [];
  const start = Math.ceil(scale.min / step) * step;
  for (let v = start; v <= scale.max + 1e-9; v += step) out.push({ value: v });
  scale.ticks = out;
};

const panelPlugin = {
  id: "panelDecor",
  beforeDraw(chart: any) {
    const { ctx, chartArea: a } = chart;
    ctx.save();
    ctx.fillStyle = "#e5e5e5";
    ctx.fillRect(a.left, a.top, a.right - a.left, a.bottom - a.top);
    ctx.restore();
  },
  afterDraw(chart: any, _args: any, opts: any) {
    const { ctx, chartArea: a } = chart;
    const cx = a.right - 16;
    const cy = a.top + 15;
    ctx.save();
    ctx.beginPath();
    ctx.arc(cx, cy, 14, 0, Math.PI * 2);
    ctx.fillStyle = "#a8a8a8";
    ctx.fill();
    ctx.fillStyle = "#ffffff";
    ctx.font = "16px 'Liberation Sans', 'DejaVu Sans', sans-serif";
    ctx.textAlign = "center";
    ctx.textBaseline = "middle";
    ctx.fillText(opts.label, cx, cy + 1);
    ctx.restore();
  },
};

function makeConfig(p: PanelSpec): any {
  const datasets: any[] = [];
  // red drawn on top, then blue, then yellow (first dataset is drawn last)
  for (let s = 2; s >= 0; s--) {
    for (const line of p.series[s]) {
      datasets.push({
        data: line.map(([x, y]) => ({ x, y })),
        borderColor: LINE_COLORS[s],
        borderWidth: 1.9,
        pointRadius: 0,
        fill: false,
        cubicInterpolationMode: "monotone",
      });
    }
  }
  const gridCommon = {
    color: "#ffffff",
    lineWidth: 1,
    drawTicks: true,
    tickLength: 4,
    tickColor: "#6a6a6a",
    tickWidth: 1,
  };
  return {
    type: "line",
    data: { datasets },
    options: {
      animation: false,
      responsive: false,
      events: [],
      layout: { padding: { left: 0, right: PAD_R, top: PAD_T, bottom: 0 } },
      plugins: {
        legend: { display: false },
        tooltip: { enabled: false },
        panelDecor: { label: p.id },
      },
      scales: {
        x: {
          type: "linear",
          min: X_MIN[p.col],
          max: X_MAX[p.col],
          grid: gridCommon,
          border: { display: false },
          afterBuildTicks: stepTicks(X_STEP[p.col]),
          ticks: {
            autoSkip: false,
            maxRotation: 0,
            color: "#555555",
            font: TICK_FONT,
            padding: 3,
            callback: fmt,
          },
          afterFit: (s: any) => {
            s.height = PAD_B;
          },
        },
        y: {
          type: "linear",
          min: p.yMin,
          max: p.yMax,
          grid: gridCommon,
          border: { display: false },
          afterBuildTicks: stepTicks(p.yStep),
          ticks: {
            autoSkip: false,
            color: "#555555",
            font: TICK_FONT,
            padding: 4,
            callback: fmt,
          },
          afterFit: (s: any) => {
            s.width = PAD_L;
          },
        },
      },
    },
    plugins: [panelPlugin],
  };
}

function Panel({ panel }: { panel: PanelSpec }) {
  const ref = useRef<HTMLCanvasElement>(null);
  useEffect(() => {
    if (!ref.current) return;
    const chart = new Chart(ref.current, makeConfig(panel));
    return () => chart.destroy();
  }, [panel]);
  const left = PLOT_LEFT[panel.col] - PAD_L;
  const top = PLOT_TOP[panel.row] - PAD_T;
  const w = PLOT_W[panel.col] + PAD_L + PAD_R;
  const h = PLOT_H + PAD_T + PAD_B;
  return (
    <canvas
      ref={ref}
      width={w}
      height={h}
      style={{ position: "absolute", left, top, width: w, height: h }}
    />
  );
}

const LEGEND_LINE_X = [296, 487, 681];
const LEGEND_TEXT_X = [362, 552, 745];

export default function App() {
  return (
    <div
      style={{
        position: "absolute",
        left: 0,
        top: 0,
        width: 1156,
        height: 483,
        background: "#ffffff",
        overflow: "hidden",
        fontFamily: TEXT_FONT,
      }}
    >
      {LEGEND_LABELS.map((lab, i) => (
        <React.Fragment key={lab}>
          <div
            style={{
              position: "absolute",
              left: LEGEND_LINE_X[i],
              top: 10,
              width: 47,
              height: 3,
              background: LEGEND_COLORS[i],
            }}
          />
          <div
            style={{
              position: "absolute",
              left: LEGEND_TEXT_X[i],
              top: 0,
              height: 26,
              lineHeight: "26px",
              fontSize: 21,
              color: "#111111",
              whiteSpace: "nowrap",
            }}
          >
            {lab}
          </div>
        </React.Fragment>
      ))}
      {ROW_LABELS.map((lab, r) => (
        <div
          key={lab}
          style={{
            position: "absolute",
            left: 7,
            top: [88, 232, 372][r] - 10,
            height: 20,
            lineHeight: "20px",
            fontSize: 15,
            color: "#000000",
          }}
        >
          {lab}
        </div>
      ))}
      {COLUMN_TITLES.map((t, c) => (
        <div
          key={t}
          style={{
            position: "absolute",
            left: PLOT_LEFT[c] + PLOT_W[c] / 2 - 80,
            width: 160,
            top: 459,
            height: 20,
            lineHeight: "20px",
            textAlign: "center",
            fontSize: 14,
            fontWeight: 700,
            color: "#000000",
            whiteSpace: "nowrap",
          }}
        >
          {t}
        </div>
      ))}
      {PANELS.map((p) => (
        <Panel key={p.id} panel={p} />
      ))}
    </div>
  );
}
